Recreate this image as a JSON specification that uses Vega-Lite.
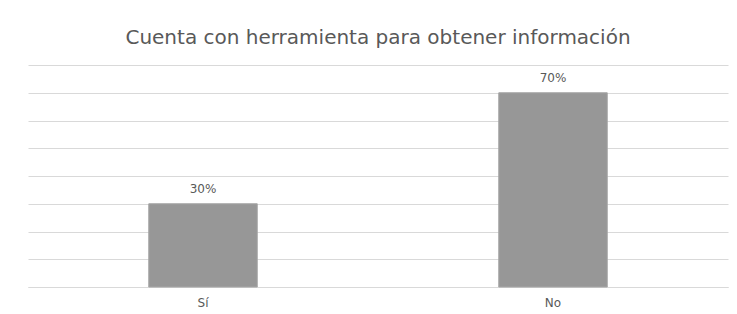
{
  "$schema": "https://vega.github.io/schema/vega-lite/v6.json",
  "width": 700,
  "height": 222,
  "autosize": {"type": "none"},
  "padding": {"left": 28, "top": 65, "right": 9, "bottom": 27},
  "background": "white",
  "title": {
    "text": "Cuenta con herramienta para obtener información",
    "font": "DejaVu Sans",
    "fontSize": 20,
    "fontWeight": "normal",
    "color": "#595959",
    "anchor": "middle",
    "offset": 17
  },
  "data": {
    "values": [
      {"respuesta": "Sí", "valor": 0.3, "etiqueta": "30%"},
      {"respuesta": "No", "valor": 0.7, "etiqueta": "70%"}
    ]
  },
  "config": {
    "view": {"stroke": null},
    "font": "DejaVu Sans"
  },
  "encoding": {
    "x": {
      "field": "respuesta",
      "type": "nominal",
      "sort": ["Sí", "No"],
      "scale": {"paddingInner": 0.69, "paddingOuter": 0.345},
      "axis": {
        "title": null,
        "labelAngle": 0,
        "ticks": false,
        "domainColor": "#d9d9d9",
        "labelColor": "#595959",
        "labelFontSize": 12,
        "labelPadding": 10,
        "labelFont": "DejaVu Sans"
      }
    },
    "y": {
      "field": "valor",
      "type": "quantitative",
      "scale": {"domain": [0, 0.8], "nice": false},
      "axis": {
        "title": null,
        "labels": false,
        "ticks": false,
        "domain": false,
        "grid": true,
        "gridColor": "#d9d9d9",
        "values": [0, 0.1, 0.2, 0.3, 0.4, 0.5, 0.6, 0.7, 0.8]
      }
    }
  },
  "layer": [
    {
      "mark": {"type": "bar", "color": "#979797", "stroke": "#a6a6a6", "strokeWidth": 1}
    },
    {
      "mark": {"type": "text", "baseline": "bottom", "dy": -8, "fontSize": 12, "color": "#595959", "font": "DejaVu Sans"},
      "encoding": {"text": {"field": "etiqueta"}}
    }
  ]
}
